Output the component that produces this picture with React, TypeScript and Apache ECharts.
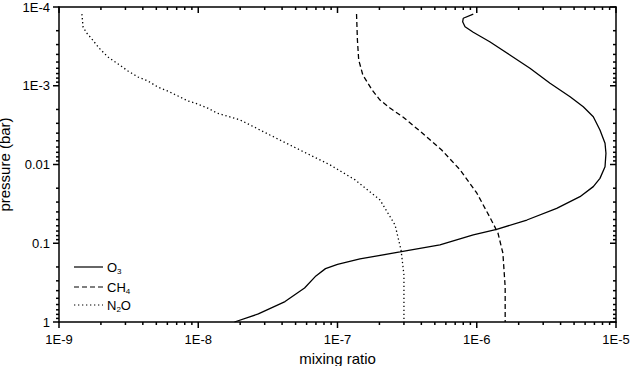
import React, { useEffect, useRef } from "react";
import * as echarts from "echarts";

// mixing ratio, pressure (bar)
const o3: [number, number][] = [
  [9.44e-7, 1.23e-4], [8.0e-7, 1.39e-4], [7.92e-7, 1.54e-4], [8.24e-7, 1.78e-4],
  [9.44e-7, 2.09e-4], [1.24e-6, 2.76e-4], [1.73e-6, 4.07e-4], [2.41e-6, 6.0e-4],
  [3.36e-6, 9.31e-4], [4.68e-6, 1.38e-3], [5.82e-6, 1.85e-3], [6.87e-6, 2.47e-3],
  [7.67e-6, 3.65e-3], [8.34e-6, 5.38e-3], [8.47e-6, 7.21e-3], [8.34e-6, 1.07e-2],
  [7.67e-6, 1.5e-2], [6.87e-6, 1.91e-2], [5.51e-6, 2.56e-2], [3.75e-6, 3.6e-2],
  [2.29e-6, 5.07e-2], [1.39e-6, 6.65e-2], [9.44e-7, 7.85e-2], [5.44e-7, 0.105],
  [2.81e-7, 0.129], [1.45e-7, 0.158], [1.0e-7, 0.185], [8.2e-8, 0.21],
  [7.0e-8, 0.26], [5.8e-8, 0.37], [4.2e-8, 0.55], [2.7e-8, 0.79],
  [1.82e-8, 1.0],
];
const ch4: [number, number][] = [
  [1.37e-7, 1.23e-4], [1.39e-7, 2.62e-4], [1.42e-7, 4.71e-4], [1.52e-7, 7.29e-4],
  [1.77e-7, 1.13e-3], [2.02e-7, 1.52e-3], [2.38e-7, 1.92e-3], [2.95e-7, 2.49e-3],
  [4.0e-7, 3.9e-3], [5.6e-7, 6.55e-3], [7.59e-7, 1.17e-2], [1.0e-6, 2.3e-2],
  [1.24e-6, 4.65e-2], [1.42e-6, 7.41e-2], [1.54e-6, 0.133], [1.6e-6, 0.36],
  [1.6e-6, 1.0],
];
const n2o: [number, number][] = [
  [1.46e-9, 1.23e-4], [1.49e-9, 1.8e-4], [1.58e-9, 2.14e-4], [1.7e-9, 2.48e-4],
  [1.94e-9, 3.32e-4], [2.25e-9, 4.32e-4], [2.66e-9, 5.3e-4], [3.13e-9, 6.5e-4],
  [3.69e-9, 7.74e-4], [4.35e-9, 8.71e-4], [5.14e-9, 1.04e-3], [6.07e-9, 1.17e-3],
  [7.16e-9, 1.35e-3], [8.44e-9, 1.56e-3], [9.95e-9, 1.71e-3], [1.17e-8, 1.92e-3],
  [1.36e-8, 2.22e-3], [2.0e-8, 2.72e-3], [3.27e-8, 4.22e-3], [5.38e-8, 6.55e-3],
  [8.83e-8, 1.01e-2], [1.34e-7, 1.57e-2], [2.02e-7, 2.82e-2], [2.59e-7, 5.86e-2],
  [2.86e-7, 0.122], [3.0e-7, 0.253], [3.0e-7, 1.0],
];

const seriesNames = ["O3", "CH4", "N2O"];
const legendLabels = ["{n|O}{s|3}", "{n|CH}{s|4}", "{n|N}{s|2}{n|O}"];
const X_MIN = 1e-9, X_MAX = 1e-5, Y_MIN = 1e-4, Y_MAX = 1;
const xMajorTicks = [1e-9, 1e-8, 1e-7, 1e-6, 1e-5];
const yMajorTicks = [1e-4, 1e-3, 1e-2, 1e-1, 1];
const xLabels: Record<string, string> = { "-9": "1E-9", "-8": "1E-8", "-7": "1E-7", "-6": "1E-6", "-5": "1E-5" };
const yLabels: Record<string, string> = { "-4": "1E-4", "-3": "1E-3", "-2": "0.01", "-1": "0.1", "0": "1" };
const xMinorTicks: number[] = [];
[1e-9, 1e-8, 1e-7, 1e-6].forEach((d) => { for (let k = 2; k <= 9; k++) xMinorTicks.push(k * d); });
const yMinorTicks: number[] = [];
[1e-4, 1e-3, 1e-2, 1e-1].forEach((d) => { for (let k = 2; k <= 9; k++) yMinorTicks.push(k * d); });

const FONT = "Liberation Sans, Arial, Helvetica, sans-serif";
const DASHES: (number[] | "solid")[] = ["solid", [5, 3], [1.3, 2.7]];
const MAJOR_LEN = 6, MINOR_LEN = 3;

export default function App() {
  const ref = useRef<HTMLDivElement>(null);
  useEffect(() => {
    const chart = echarts.init(ref.current!, null, { renderer: "svg" });
    const lineBase = { show: true, lineStyle: { color: "#000", width: 1.5 } };
    const xBase = {
      type: "log" as const, logBase: 10, min: X_MIN, max: X_MAX,
      splitLine: { show: false }, axisLine: { ...lineBase, onZero: false }, axisTick: { show: false },
    };
    const yBase = {
      type: "log" as const, logBase: 10, min: Y_MIN, max: Y_MAX, inverse: true,
      splitLine: { show: false }, axisLine: { ...lineBase, onZero: false }, axisTick: { show: false },
    };
    const fmt = (map: Record<string, string>) => (v: number) => map[String(Math.round(Math.log10(v)))] ?? "";

    const xTickData = [
      ...xMajorTicks.map((v) => [v, Y_MAX, MAJOR_LEN]),
      ...xMinorTicks.map((v) => [v, Y_MAX, MINOR_LEN]),
    ];
    const yTickData = [
      ...yMajorTicks.map((v) => [X_MIN, v, MAJOR_LEN]),
      ...yMinorTicks.map((v) => [X_MIN, v, MINOR_LEN]),
    ];
    const tickStyle = { stroke: "#000", lineWidth: 1.5 };
    const xTickSeries = {
      type: "custom", silent: true, clip: false, z: 5, xAxisIndex: 0, yAxisIndex: 0,
      encode: { x: 0, y: 1 }, data: xTickData,
      renderItem: (_p: any, api: any) => {
        const v = api.value(0);
        const len = api.value(2);
        const pb = api.coord([v, Y_MAX]);
        const pt = api.coord([v, Y_MIN]);
        return {
          type: "group",
          children: [
            { type: "line", shape: { x1: pb[0], y1: pb[1], x2: pb[0], y2: pb[1] + len }, style: tickStyle },
            { type: "line", shape: { x1: pt[0], y1: pt[1], x2: pt[0], y2: pt[1] + len }, style: tickStyle },
          ],
        };
      },
    };
    const yTickSeries = {
      type: "custom", silent: true, clip: false, z: 5, xAxisIndex: 0, yAxisIndex: 0,
      encode: { x: 0, y: 1 }, data: yTickData,
      renderItem: (_p: any, api: any) => {
        const v = api.value(1);
        const len = api.value(2);
        const pl = api.coord([X_MIN, v]);
        const pr = api.coord([X_MAX, v]);
        return {
          type: "group",
          children: [
            { type: "line", shape: { x1: pl[0] - len, y1: pl[1], x2: pl[0], y2: pl[1] }, style: tickStyle },
            { type: "line", shape: { x1: pr[0] - len, y1: pr[1], x2: pr[0], y2: pr[1] }, style: tickStyle },
          ],
        };
      },
    };

    const legendLeft = 74;
    const legendTop = [267, 287, 305];
    const graphic: any[] = [];
    seriesNames.forEach((_, i) => {
      graphic.push({
        type: "line", shape: { x1: legendLeft, y1: legendTop[i], x2: legendLeft + 29, y2: legendTop[i] },
        style: { stroke: "#000", lineWidth: 1.2, lineDash: DASHES[i] === "solid" ? null : DASHES[i] },
      });
      graphic.push({
        type: "text", x: legendLeft + 33, y: legendTop[i], style: {
          text: legendLabels[i], verticalAlign: "middle", fill: "#000", fontFamily: FONT,
          rich: {
            n: { fontSize: 13, fill: "#000", fontFamily: FONT, lineHeight: 16 },
            s: { fontSize: 8, fill: "#000", fontFamily: FONT, lineHeight: 16, verticalAlign: "bottom", padding: [8, 0, 0, 0] },
          },
        },
      });
    });
    const option: any = {
      animation: false,
      backgroundColor: "#fff",
      textStyle: { fontFamily: FONT },
      grid: { left: 59, right: 15, top: 7, bottom: 44, containLabel: false, outerBoundsMode: "none" },
      graphic,
      xAxis: [
        {
          ...xBase, position: "bottom",
          axisLabel: { show: true, formatter: fmt(xLabels), color: "#000", fontSize: 13, fontFamily: FONT, margin: 11 },
          name: "mixing ratio", nameLocation: "middle", nameGap: 25,
          nameTextStyle: { color: "#000", fontSize: 15, fontFamily: FONT },
        },
        { ...xBase, position: "top", axisLabel: { show: false } },
      ],
      yAxis: [
        {
          ...yBase, position: "left",
          axisLabel: { show: true, formatter: fmt(yLabels), color: "#000", fontSize: 13, fontFamily: FONT, margin: 9 },
          name: "pressure (bar)", nameLocation: "middle", nameGap: 36, nameRotate: 90,
          nameTextStyle: { color: "#000", fontSize: 15, fontFamily: FONT },
        },
        { ...yBase, position: "right", axisLabel: { show: false } },
      ],
      series: [
        ...seriesNames.map((name, i) => ({
          name, type: "line", data: [o3, ch4, n2o][i], symbol: "none", showSymbol: false,
          lineStyle: { color: "#000", width: 1.3, type: DASHES[i] }, itemStyle: { color: "#000" },
        })),
        xTickSeries,
        yTickSeries,
      ],
    };
    chart.setOption(option);
    return () => chart.dispose();
  }, []);
  return <div ref={ref} style={{ position: "fixed", left: 0, top: 0, width: 631, height: 366 }} />;
}
